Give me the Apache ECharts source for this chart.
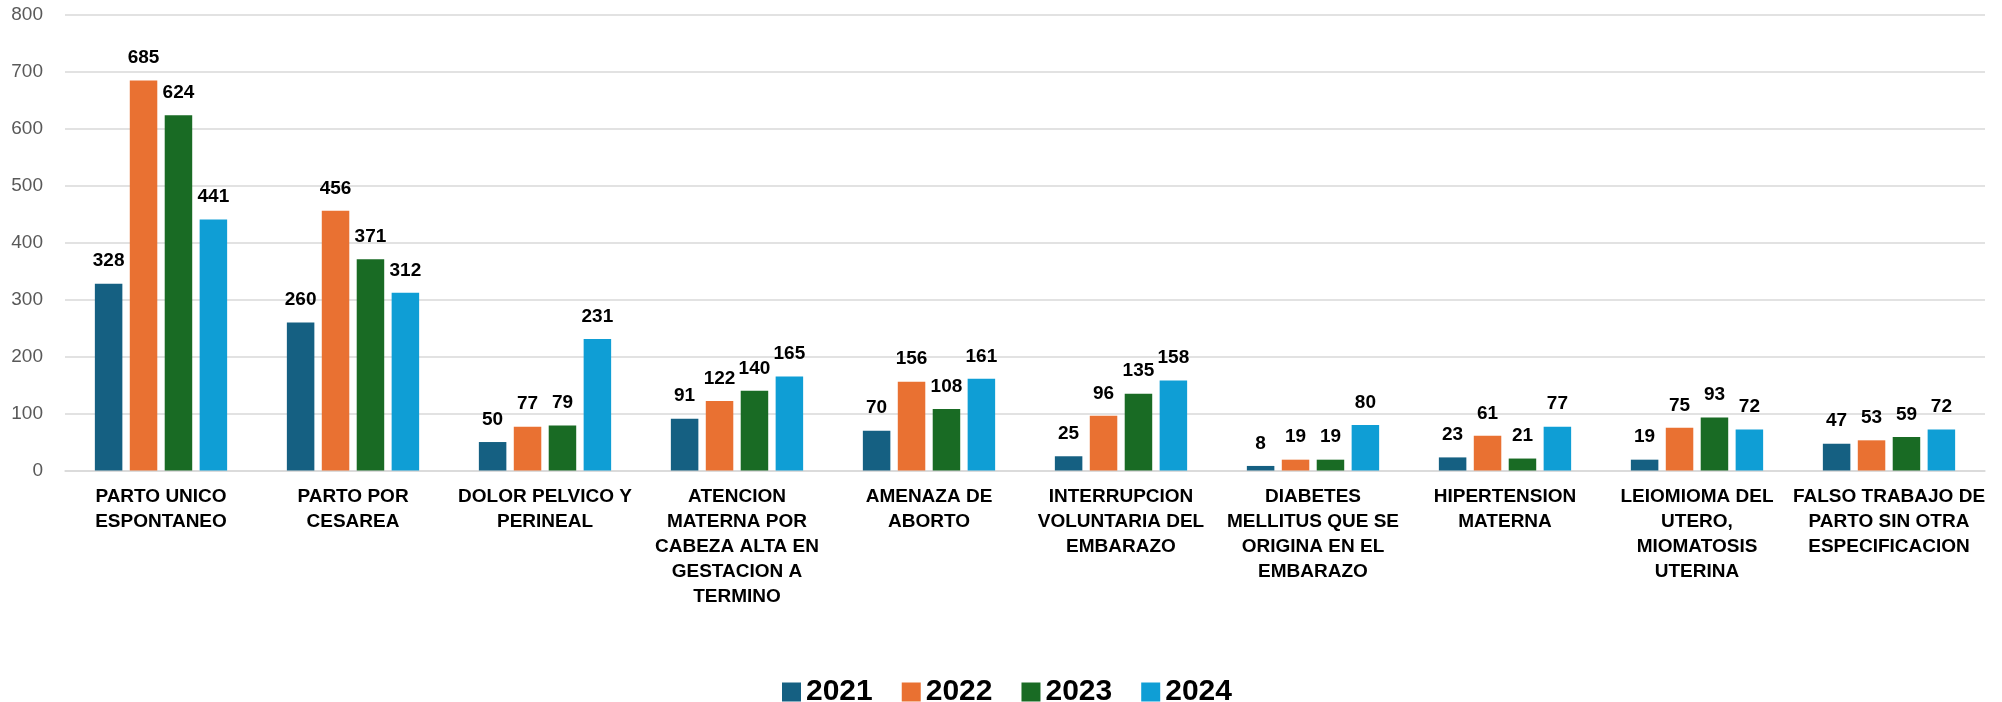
<!DOCTYPE html>
<html>
<head>
<meta charset="utf-8">
<script src="https://cdn.jsdelivr.net/npm/echarts@6/dist/echarts.min.js"></script>
<style>
html,body{margin:0;padding:0;background:#fff;}
#chart{width:2002px;height:702px;}
</style>
</head>
<body>
<div id="chart"></div>
<script>
const categories = [
  "PARTO UNICO\nESPONTANEO",
  "PARTO POR\nCESAREA",
  "DOLOR PELVICO Y\nPERINEAL",
  "ATENCION\nMATERNA POR\nCABEZA ALTA EN\nGESTACION A\nTERMINO",
  "AMENAZA DE\nABORTO",
  "INTERRUPCION\nVOLUNTARIA DEL\nEMBARAZO",
  "DIABETES\nMELLITUS QUE SE\nORIGINA EN EL\nEMBARAZO",
  "HIPERTENSION\nMATERNA",
  "LEIOMIOMA DEL\nUTERO,\nMIOMATOSIS\nUTERINA",
  "FALSO TRABAJO DE\nPARTO SIN OTRA\nESPECIFICACION"
];
const seriesNames = ["2021", "2022", "2023", "2024"];
const values2021 = [328, 260, 50, 91, 70, 25, 8, 23, 19, 47];
const values2022 = [685, 456, 77, 122, 156, 96, 19, 61, 75, 53];
const values2023 = [624, 371, 79, 140, 108, 135, 19, 21, 93, 59];
const values2024 = [441, 312, 231, 165, 161, 158, 80, 77, 72, 72];
const colors = ["#156082", "#E97132", "#196B24", "#0F9ED5"];

const allValues = [values2021, values2022, values2023, values2024];
const font = "'Liberation Sans', Arial, sans-serif";

const chart = echarts.init(document.getElementById('chart'), null, {renderer: 'canvas'});
chart.setOption({
  animation: false,
  color: colors,
  grid: {left: 65, right: 17, top: 15, bottom: 231.5, containLabel: false},
  legend: {
    data: seriesNames,
    left: 777,
    top: 672,
    itemWidth: 19,
    itemHeight: 19,
    itemGap: 29,
    icon: 'rect',
    textStyle: {fontFamily: font, fontSize: 30, fontWeight: 'bold', color: '#000', lineHeight: 30}
  },
  xAxis: {
    type: 'category',
    data: categories,
    axisTick: {show: false},
    axisLine: {show: true, lineStyle: {color: '#d9d9d9', width: 1.5}},
    axisLabel: {
      interval: 0,
      margin: 14,
      fontFamily: font,
      fontSize: 19,
      fontWeight: 'bold',
      color: '#000',
      lineHeight: 25,
      align: 'center'
    }
  },
  yAxis: {
    type: 'value',
    min: 0,
    max: 800,
    interval: 100,
    axisLine: {show: false},
    axisTick: {show: false},
    splitLine: {lineStyle: {color: '#d9d9d9', width: 1.5}},
    axisLabel: {margin: 22, fontFamily: font, fontSize: 19, color: '#595959'}
  },
  series: seriesNames.map((name, i) => ({
    name: name,
    type: 'bar',
    data: allValues[i],
    barWidth: 27.5,
    barGap: '27%',
    itemStyle: {color: colors[i]},
    label: {
      show: true,
      position: 'top',
      distance: 13,
      fontFamily: font,
      fontSize: 19,
      fontWeight: 'bold',
      color: '#000'
    }
  }))
});
</script>
</body>
</html>
